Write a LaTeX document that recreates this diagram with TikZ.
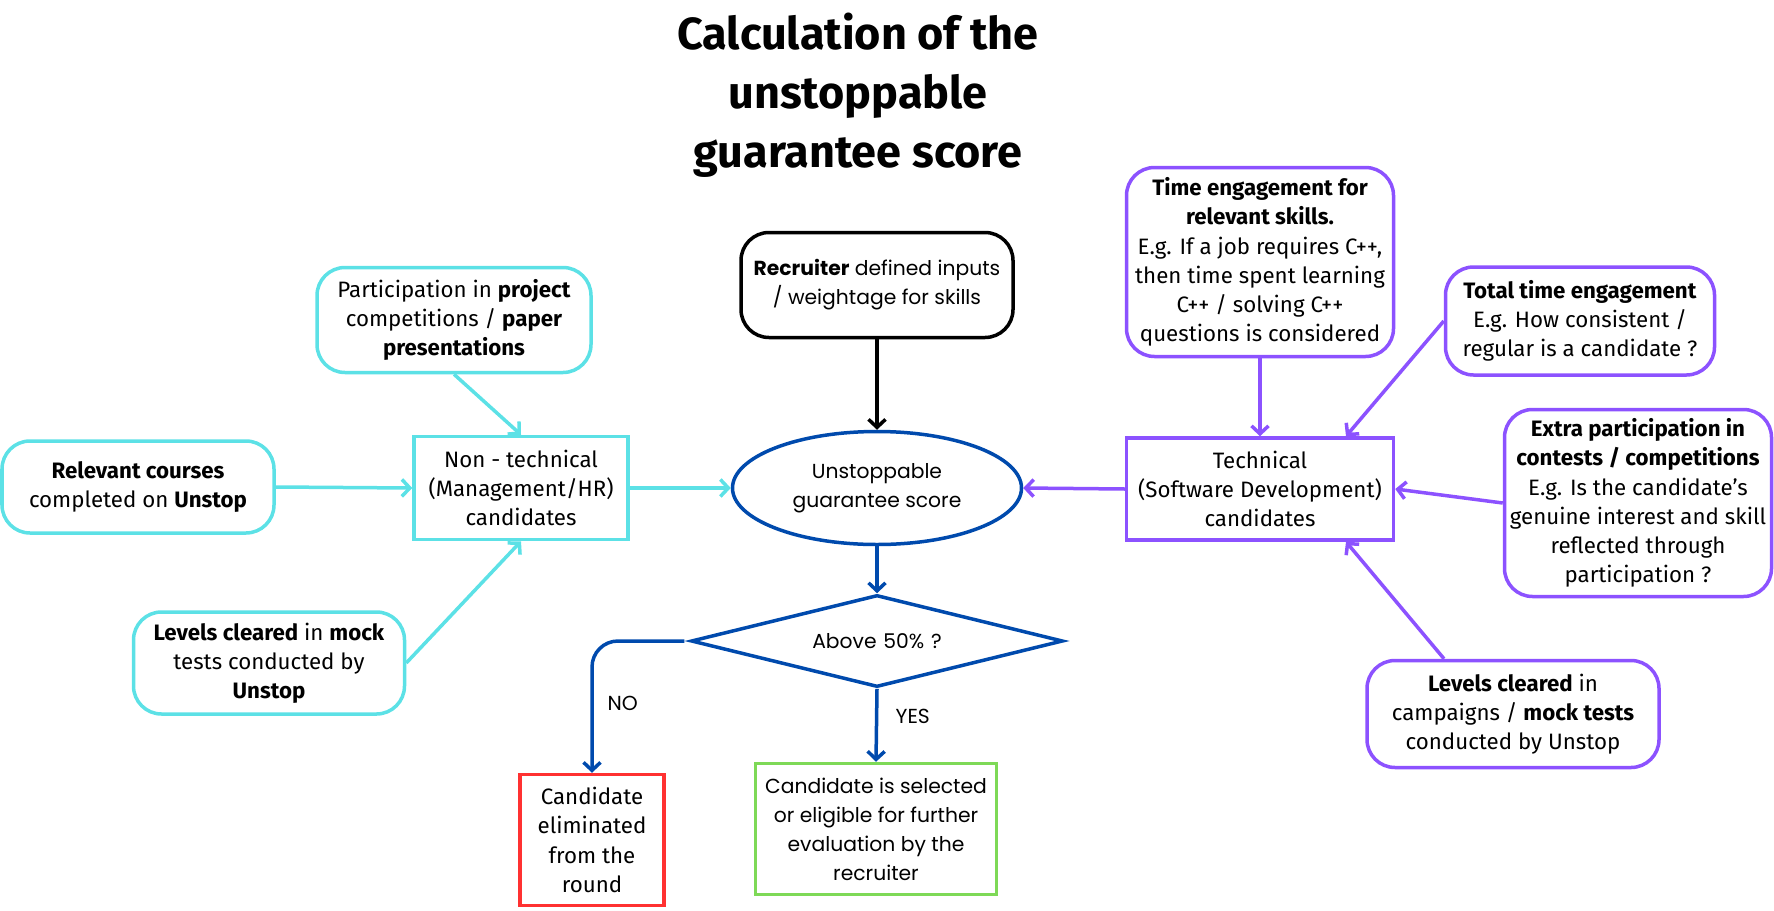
\documentclass[tikz,border=0pt]{standalone}
\usepackage{fontspec}
\setmainfont{Fira Sans}
\newfontfamily\popfont{Poppins}
\usetikzlibrary{arrows.meta,shapes.geometric,calc}
\definecolor{cy}{HTML}{5CE1E6}
\definecolor{pu}{HTML}{8C52FF}
\definecolor{bl}{HTML}{004AAD}
\definecolor{rd}{HTML}{FF3131}
\definecolor{gr}{HTML}{7ED957}
\begin{document}
\begin{tikzpicture}[x=1pt,y=-1pt,
  sidefont/.style={font=\fontsize{22.3}{29.2}\selectfont},
  midfont/.style={font=\popfont\fontsize{20.3}{29}\selectfont},
  basebox/.style={line width=3.5pt, align=center, inner sep=0pt},
  cybox/.style={basebox, draw=cy, rounded corners=28pt, sidefont},
  cyrect/.style={basebox, draw=cy, sidefont},
  pubox/.style={basebox, draw=pu, rounded corners=28pt, sidefont},
  purect/.style={basebox, draw=pu, sidefont},
  arr/.style={line width=3.5pt, -{Straight Barb[length=8pt,width=17pt]}},
]
\useasboundingbox (0,0) rectangle (1774,910);

% title
\node[font=\bfseries\fontsize{45}{59}\selectfont, align=center] (title) at (858,95)
  {Calculation of the\\unstoppable\\guarantee score};

% left side
\node[cybox, minimum width=274pt, minimum height=105pt] (part) at (454,320)
  {Participation in \textbf{project}\\competitions / \textbf{paper}\\\textbf{presentations}};
\node[cybox, minimum width=272pt, minimum height=92pt] (rel) at (138,487)
  {\textbf{Relevant courses}\\completed on \textbf{Unstop}};
\node[cybox, minimum width=271pt, minimum height=102pt] (mock) at (269,663)
  {\textbf{Levels cleared} in \textbf{mock}\\tests conducted by\\\textbf{Unstop}};
\node[cyrect, minimum width=214pt, minimum height=103pt] (nt) at (521,488)
  {Non - technical\\(Management/HR)\\candidates};

% centre
\node[basebox, draw=black, rounded corners=28pt, midfont, minimum width=272pt, minimum height=105pt] (rec) at (877,285)
  {\textbf{Recruiter} defined inputs\\/ weightage for skills};
\node[ellipse, draw=bl, line width=3.5pt, inner sep=0pt, align=center, midfont, minimum width=289pt, minimum height=113pt] (ell) at (877,488)
  {Unstoppable\\guarantee score};
\node[diamond, aspect=4.04, draw=bl, line width=3.5pt, inner xsep=0pt, inner ysep=21.7pt,
      align=center, text width=140pt, text height=14pt, text depth=0pt, midfont] (dia) at (877,641)
  {Above 50\% ?};
\node[basebox, draw=rd, sidefont, minimum width=144pt, minimum height=131pt] (red) at (592,840)
  {Candidate\\eliminated\\from the\\round};
\node[basebox, draw=gr, midfont, minimum width=241pt, minimum height=131pt] (grn) at (876,829)
  {Candidate is selected\\or eligible for further\\evaluation by the\\recruiter};

% right side
\node[pubox, minimum width=267pt, minimum height=189pt] (time) at (1260,262)
  {\textbf{Time engagement for}\\\textbf{relevant skills.}\\E.g. If a job requires C++,\\then time spent learning\\C++ / solving C++\\questions is considered};
\node[pubox, minimum width=269pt, minimum height=108pt] (tot) at (1580,321)
  {\textbf{Total time engagement}\\E.g. How consistent /\\regular is a candidate ?};
\node[pubox, minimum width=267pt, minimum height=187pt] (ext) at (1638,503)
  {\textbf{Extra participation in}\\\textbf{contests / competitions}\\E.g. Is the candidate’s\\genuine interest and skill\\reflected through\\participation ?};
\node[pubox, minimum width=292pt, minimum height=107pt] (camp) at (1513,714)
  {\textbf{Levels cleared} in\\campaigns / \textbf{mock tests}\\conducted by Unstop};
\node[purect, minimum width=267pt, minimum height=102pt] (tech) at (1260,489)
  {Technical\\(Software Development)\\candidates};

% connectors left
\draw[arr, cy] (part.south) -- (nt.north);
\draw[arr, cy] (rel.east) -- (nt.west);
\draw[arr, cy] (mock.east) -- (nt.south);
\draw[arr, cy] (nt.east) -- (ell.west);

% centre connectors
\draw[arr, black] (rec.south) -- (ell.north);
\draw[arr, bl] (ell.south) -- (dia.north);
\draw[arr, bl] (dia.south) -- node[right=14pt, pos=0.38, midfont, text=black] (yes) {YES} (grn.north);
\coordinate (noturn) at (red.north |- dia.west);
\draw[arr, bl, rounded corners=26pt] ($(dia.west)+(-5,0)$) -- (noturn) -- (red.north);
\node[midfont, anchor=west] (no) at ($(noturn)+(12,62)$) {NO};

% connectors right
\draw[arr, pu] (time.south) -- (tech.north);
\draw[arr, pu] (tot.west) -- ($(tech.north)+(86,0)$);
\draw[arr, pu] (ext.west) -- (tech.east);
\draw[arr, pu] ($(camp.north)+(-69,0)$) -- ($(tech.south)+(86,0)$);
\draw[arr, pu] (tech.west) -- (ell.east);
\end{tikzpicture}
\end{document}
